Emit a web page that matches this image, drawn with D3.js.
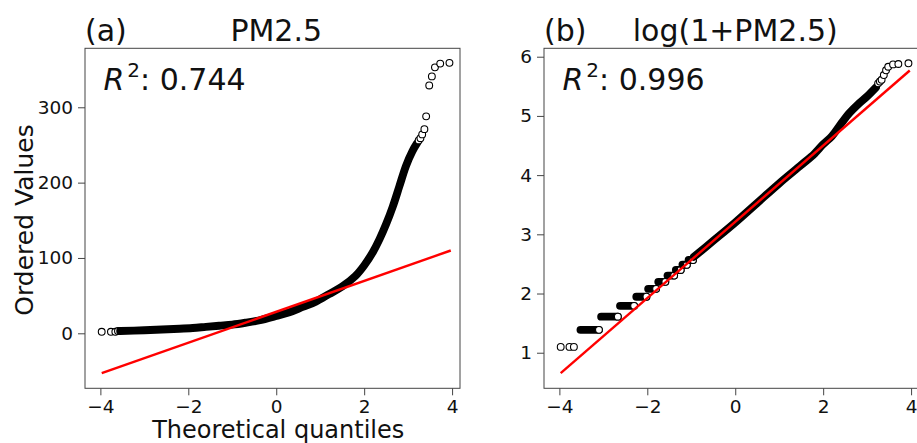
<!DOCTYPE html>
<html><head><meta charset="utf-8">
<script src="https://cdn.jsdelivr.net/npm/d3@7"></script>
<style>
body{margin:0;background:#fff;}
svg{display:block;font-family:"DejaVu Sans",sans-serif;}
</style></head>
<body>
<svg id="c" width="917" height="443"></svg>
<script>
// ---------------- data ----------------
const xTicks = [-4, -2, 0, 2, 4];
const yTicksA = [0, 100, 200, 300];
const yTicksB = [1, 2, 3, 4, 5, 6];
const titlesA = ["(a)", "PM2.5"];
const titlesB = ["(b)", "log(1+PM2.5)"];
const r2Values = ["0.744", "0.996"];

// panel (a): dense band of ordered values [theoretical quantile, PM2.5]
const bandA = [[-3.55,3],[-3.0,4],[-2.6,5],[-2.2,6],[-1.9,7],[-1.6,8.5],[-1.3,10],[-1.0,11.5],[-0.7,14],
  [-0.4,17],[0,23],[0.3,28],[0.6,35],[0.9,42],[1.2,52],[1.5,62],[1.8,76],[2.0,90],[2.2,108],[2.35,125],
  [2.5,145],[2.65,168],[2.8,195],[2.95,222],[3.1,242],[3.2,252]];
// panel (a): isolated circles
const lowA = [[-3.97,2],[-3.76,2],[-3.66,2],[-3.6,3]];
const highA = [[3.24,256],[3.28,259],[3.32,264],[3.37,271],[3.41,288],[3.48,329],[3.54,341],[3.61,353],[3.73,358],[3.94,359]];
// panel (a): fitted line end points
const lineA = [[-3.97,-52.9],[3.97,109.9]];

// panel (b): low isolated points
const lowB = [[-3.97,1.0986],[-3.77,1.0986],[-3.67,1.0986]];
// panel (b): discrete steps: level (log(1+PM)), first and last quantile
const stepLevelsB = [1.386,1.609,1.792,1.946,2.079,2.197,2.303,2.398,2.485,2.565];
const stepStartB  = [-3.52,-3.05,-2.62,-2.25,-1.98,-1.75,-1.54,-1.35,-1.20,-1.06];
const stepEndB    = [-3.10,-2.67,-2.30,-2.02,-1.80,-1.59,-1.39,-1.24,-1.10,-0.96];
// panel (b): continuous band
const bandB = [[-0.94,2.62],[-0.5,2.89],[0,3.20],[0.5,3.53],[1.0,3.86],[1.5,4.17],[1.8,4.36],[2.0,4.52],
  [2.2,4.66],[2.4,4.86],[2.6,5.05],[2.8,5.2],[3.0,5.33],[3.2,5.48]];
const highB = [[3.25,5.55],[3.29,5.58],[3.33,5.61],[3.38,5.69],[3.43,5.77],[3.48,5.83],[3.59,5.87],[3.71,5.877],[3.94,5.889]];
const lineB = [[-3.97,0.654],[3.97,5.767]];

// ---------------- drawing ----------------
const svg = d3.select("#c");
const TOP = 48.3, BOT = 388.3, W = 375;
const XDOM = [-4.35, 4.18];
const R = 3.4;

function panel(opt){
  const x = d3.scaleLinear().domain(XDOM).range([opt.left, opt.left+W]);
  const y = d3.scaleLinear().domain(opt.ydom).range([BOT, TOP]);
  const g = svg.append("g");

  const ax = g.append("g").attr("transform",`translate(0,${BOT})`)
    .call(d3.axisBottom(x).tickValues(xTicks).tickSize(7).tickPadding(5));
  const ay = g.append("g").attr("transform",`translate(${opt.left},0)`)
    .call(d3.axisLeft(y).tickValues(opt.yticks).tickFormat(d3.format("d")).tickSize(7).tickPadding(5));
  [ax,ay].forEach(a=>{
    a.attr("font-family","DejaVu Sans").attr("font-size",18.5);
    a.select(".domain").remove();
    a.selectAll("line").attr("stroke","#444").attr("stroke-width",1);
    a.selectAll("text").attr("fill","#111");
  });

  const cp = "clip"+opt.id;
  svg.append("clipPath").attr("id",cp).append("rect")
    .attr("x",opt.left).attr("y",TOP).attr("width",W).attr("height",BOT-TOP);
  const plot = g.append("g").attr("clip-path",`url(#${cp})`);
  opt.draw(plot,x,y);

  g.append("rect").attr("x",opt.left).attr("y",TOP).attr("width",W).attr("height",BOT-TOP)
    .attr("fill","none").attr("stroke","#444").attr("stroke-width",1);

  g.append("text").attr("x",opt.left).attr("y",40.5).attr("font-size",30).attr("fill","#111").text(opt.titles[0]);
  g.append("text").attr("x",x(0)).attr("y",40.5).attr("font-size",30).attr("fill","#111")
    .attr("text-anchor","middle").text(opt.titles[1]);

  const t = g.append("text").attr("x",opt.left+18.5).attr("y",90).attr("font-size",30).attr("fill","#111");
  t.append("tspan").attr("font-style","italic").text("R");
  t.append("tspan").attr("font-size",20).attr("dy",-13).attr("dx",3).text("2");
  t.append("tspan").attr("dy",13).text(": "+opt.r2);
  return {x,y,g};
}

function circles(plot,x,y,pts){
  plot.selectAll(null).data(pts).enter().append("circle")
    .attr("cx",d=>x(d[0])).attr("cy",d=>y(d[1])).attr("r",R)
    .attr("fill","#fff").attr("stroke","#000").attr("stroke-width",1.1);
}
function band(plot,x,y,pts){
  plot.append("path").datum(pts)
    .attr("d",d3.line().x(d=>x(d[0])).y(d=>y(d[1])).curve(d3.curveCatmullRom))
    .attr("fill","none").attr("stroke","#000").attr("stroke-width",2*R+1.1)
    .attr("stroke-linecap","round").attr("stroke-linejoin","round");
}
function fit(plot,x,y,pts){
  plot.append("path").datum(pts)
    .attr("d",d3.line().x(d=>x(d[0])).y(d=>y(d[1])))
    .attr("fill","none").attr("stroke","#f00").attr("stroke-width",2.4);
}

const A = panel({id:"a",left:85,ydom:[-73.0,378.3],yticks:yTicksA,titles:titlesA,r2:r2Values[0],
  draw:(p,x,y)=>{
    circles(p,x,y,lowA);
    band(p,x,y,bandA);
    circles(p,x,y,highA);
    fit(p,x,y,lineA);
  }});

const B = panel({id:"b",left:544,ydom:[0.399,6.142],yticks:yTicksB,titles:titlesB,r2:r2Values[1],
  draw:(p,x,y)=>{
    circles(p,x,y,lowB);
    stepLevelsB.forEach((lv,i)=>{
      p.append("line").attr("x1",x(stepStartB[i])).attr("x2",x(stepEndB[i]))
        .attr("y1",y(lv)).attr("y2",y(lv)).attr("stroke","#000")
        .attr("stroke-width",2*R+1.1).attr("stroke-linecap","round");
      circles(p,x,y,[[stepEndB[i],lv]]);
    });
    band(p,x,y,bandB);
    circles(p,x,y,highB);
    fit(p,x,y,lineB);
  }});

svg.append("text").attr("x",A.x(0)+2).attr("y",438).attr("text-anchor","middle")
  .attr("font-size",24).attr("fill","#111").text("Theoretical quantiles");
svg.append("text").attr("transform","translate(33,220) rotate(-90)").attr("text-anchor","middle")
  .attr("font-size",25).attr("fill","#111").text("Ordered Values");
</script>
</body></html>
